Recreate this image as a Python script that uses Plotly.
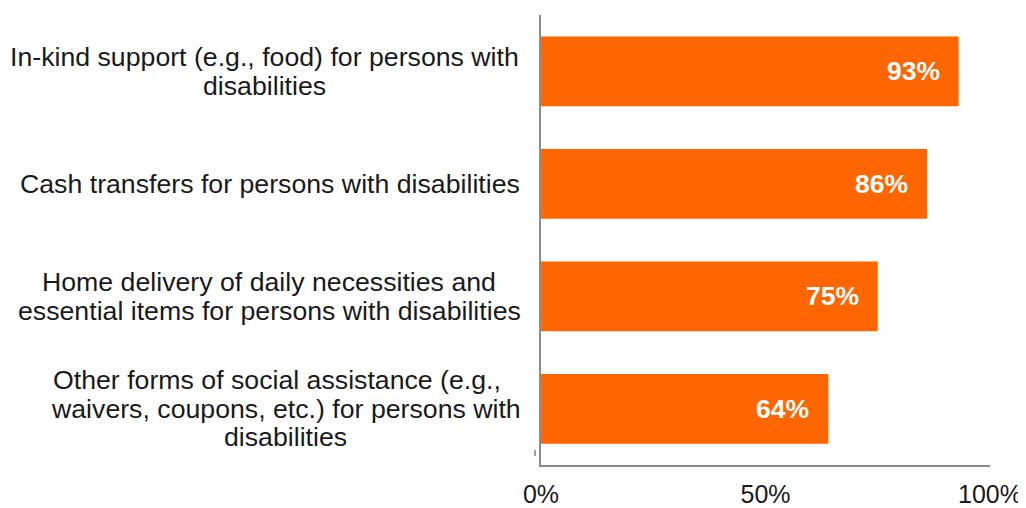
import plotly.graph_objects as go

# ---- data ----
categories = ["In-kind support", "Cash transfers", "Home delivery", "Other social assistance"]
label_lines = [
    ["In-kind support (e.g., food) for persons with", "disabilities"],
    ["Cash transfers for persons with disabilities"],
    ["Home delivery of daily necessities and", "essential items for persons with disabilities"],
    ["Other forms of social assistance (e.g.,", "waivers, coupons, etc.) for persons with", "disabilities"],
]
values = [0.93, 0.86, 0.75, 0.64]
value_labels = ["93%", "86%", "75%", "64%"]
tick_vals = [0, 0.5, 1.0]
tick_text = ["0%", "50%", "100%"]

# ---- layout constants ----
PAGE_OFF = 8  # default body margin of the HTML page
W, H = 1026 - PAGE_OFF, 508 - PAGE_OFF
L, R, T, B = 541 - PAGE_OFF, 36, 15 - PAGE_OFF, 43
plot_w = W - L - R
plot_h = H - T - B
FONT = "Liberation Sans, Arial, sans-serif"
BAR = "#FF6600"
AXIS = "#8C8C8C"
TEXT = "#1A1A1A"
LINE_GAP = 28.5
# measured centre (pixels from left edge of the reference image) of each label line
line_centers = [[264.5, 264.5], [270], [269, 269], [277, 285.5, 285]]

fig = go.Figure()
fig.add_trace(go.Bar(
    x=values, y=categories, orientation="h",
    marker=dict(color=BAR, line=dict(width=0)),
    width=0.62, hoverinfo="skip",
))

annotations = []
for cat, v, lab in zip(categories, values, value_labels):
    annotations.append(dict(
        x=v, y=cat, xref="x", yref="y", text=lab, showarrow=False,
        xanchor="right", yanchor="middle", xshift=-17,
        font=dict(family=FONT, size=26.5, color="white", weight="bold"),
    ))

for cat, lines, centers in zip(categories, label_lines, line_centers):
    n = len(lines)
    for i, (ln, cx) in enumerate(zip(lines, centers)):
        off = ((n - 1) / 2 - i) * LINE_GAP
        annotations.append(dict(
            x=(cx - PAGE_OFF - L) / plot_w, xref="paper", y=cat, yref="y",
            text=ln, showarrow=False, xanchor="center", yanchor="middle",
            yshift=off, font=dict(family=FONT, size=26.7, color=TEXT),
        ))

# small stray tick mark left of the axis foot, as in the original
shapes = [dict(type="line", xref="paper", yref="paper",
               x0=-6 / plot_w, x1=-6 / plot_w, y0=9 / plot_h, y1=15 / plot_h,
               line=dict(color="#A0A0A0", width=2))]

fig.update_layout(
    width=W, height=H,
    margin=dict(l=L, r=R, t=T, b=B, pad=0),
    paper_bgcolor="white", plot_bgcolor="white",
    showlegend=False,
    annotations=annotations,
    shapes=shapes,
    xaxis=dict(
        range=[0, 1], tickvals=tick_vals, ticktext=tick_text,
        showgrid=False, zeroline=False, showline=True,
        linecolor=AXIS, linewidth=2, ticks="",
        ticklabelstandoff=6, automargin=False,
        tickfont=dict(family=FONT, size=25, color=TEXT),
        fixedrange=True,
    ),
    yaxis=dict(
        categoryorder="array", categoryarray=categories,
        autorange="reversed", automargin=False,
        showgrid=False, zeroline=False, showline=True,
        linecolor=AXIS, linewidth=2, ticks="",
        showticklabels=False, fixedrange=True,
    ),
)

fig.write_html("out.html", config={"displayModeBar": False})
